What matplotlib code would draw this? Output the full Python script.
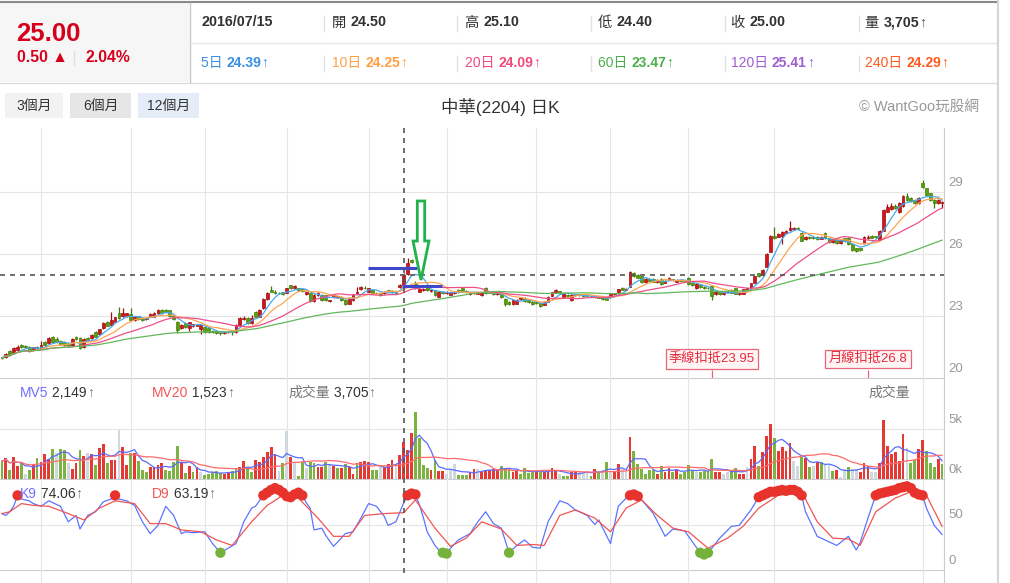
import numpy as np
import pandas as pd
import matplotlib
matplotlib.use("Agg")
import matplotlib.pyplot as plt
from matplotlib.patches import Rectangle, Polygon

plt.rcParams["font.family"] = ["Liberation Sans", "Noto Sans CJK TC", "DejaVu Sans"]

# ---- daily candles, oldest -> newest ----
opens = [
    21.00, 21.04, 21.32, 21.20, 21.37, 21.60, 21.58, 21.50, 21.37, 21.50,
    21.45, 21.75, 21.69, 21.98, 21.90, 21.80, 21.73, 21.70, 21.60, 22.00,
    21.93, 21.50, 21.95, 21.93, 22.25, 22.14, 22.41, 22.73, 22.57, 22.73,
    23.13, 23.00, 23.00, 23.10, 22.81, 23.00, 22.90, 22.84, 22.97, 22.97,
    23.13, 23.29, 23.29, 23.29, 23.00, 22.73, 22.41, 22.65, 22.41, 22.50,
    22.52, 22.40, 22.49, 22.45, 22.30, 22.28, 22.25, 22.20, 22.22, 22.28,
    22.25, 22.57, 22.85, 22.90, 22.65, 23.21, 22.97, 23.38, 23.81, 24.25,
    24.15, 24.12, 24.15, 24.13, 24.50, 24.38, 24.35, 24.30, 24.05, 24.10,
    23.74, 24.00, 24.02, 24.00, 23.72, 23.90, 23.90, 23.94, 23.80, 23.60,
    23.78, 24.10, 24.30, 24.38, 24.18, 24.26, 24.12, 24.10, 24.10, 24.25,
    24.20, 24.15, 24.40, 24.50, 25.03, 25.70, 24.60, 24.18, 24.25, 24.42,
    24.20, 24.26, 23.94, 24.18, 24.10, 24.02, 24.10, 24.26, 24.34, 24.20,
    24.05, 24.10, 24.08, 24.00, 24.34, 24.20, 24.15, 24.05, 24.10, 23.83,
    23.70, 23.57, 23.60, 23.82, 23.86, 23.78, 23.70, 23.70, 23.65, 23.55,
    23.70, 23.97, 24.15, 24.20, 23.90, 24.02, 23.78, 24.05, 24.05, 24.00,
    23.98, 23.96, 23.95, 23.92, 23.90, 23.90, 23.90, 24.05, 24.10, 24.38,
    24.28, 24.42, 25.10, 25.00, 24.92, 24.66, 24.80, 24.80, 24.66, 24.80,
    24.60, 24.74, 24.78, 24.66, 24.75, 24.72, 24.85, 24.60, 24.34, 24.50,
    24.42, 24.38, 24.47, 24.05, 24.20, 24.05, 24.20, 24.26, 24.34, 24.05,
    24.07, 24.30, 24.34, 24.61, 25.06, 24.98, 25.38, 26.11, 26.86, 26.83,
    26.86, 27.02, 27.15, 27.20, 27.26, 27.02, 26.70, 26.83, 26.80, 26.80,
    26.72, 27.02, 26.75, 26.59, 26.75, 26.55, 26.75, 26.78, 26.50, 26.27,
    26.27, 26.54, 26.75, 26.86, 26.85, 26.70, 27.12, 28.04, 28.15, 28.33,
    28.04, 28.30, 28.80, 28.70, 28.60, 28.44, 29.40, 29.16, 28.92, 28.60,
    28.44, 28.44,
]
highs = [
    21.05, 21.20, 21.35, 21.50, 21.60, 21.65, 21.62, 21.55, 21.52, 21.55,
    21.80, 21.78, 22.00, 22.05, 22.00, 21.85, 21.78, 21.75, 21.95, 22.05,
    21.98, 21.92, 22.00, 22.12, 22.30, 22.40, 22.70, 22.76, 23.20, 22.98,
    23.44, 23.40, 23.15, 23.40, 23.00, 23.02, 22.95, 22.95, 23.15, 23.18,
    23.35, 23.32, 23.32, 23.30, 23.02, 22.75, 22.60, 22.70, 22.72, 22.62,
    22.60, 22.60, 22.52, 22.50, 22.32, 22.30, 22.28, 22.28, 22.30, 22.30,
    22.60, 22.95, 23.00, 22.95, 23.05, 23.25, 23.32, 23.85, 24.18, 24.45,
    24.25, 24.15, 24.18, 24.38, 24.52, 24.50, 24.38, 24.35, 24.20, 24.12,
    24.05, 24.15, 24.05, 24.02, 23.80, 24.05, 24.00, 23.96, 23.82, 23.88,
    24.05, 24.42, 24.45, 24.45, 24.36, 24.28, 24.15, 24.12, 24.20, 24.28,
    24.24, 24.20, 24.55, 25.10, 25.80, 25.75, 24.70, 24.35, 24.35, 24.45,
    24.30, 24.28, 24.20, 24.20, 24.20, 24.18, 24.18, 24.30, 24.36, 24.25,
    24.18, 24.18, 24.15, 24.18, 24.40, 24.22, 24.18, 24.22, 24.12, 23.85,
    23.72, 23.80, 23.82, 23.92, 23.90, 23.80, 23.72, 23.72, 23.68, 23.72,
    23.96, 24.18, 24.30, 24.22, 24.08, 24.05, 24.05, 24.08, 24.08, 24.03,
    24.00, 23.98, 23.98, 23.95, 23.92, 23.92, 24.06, 24.12, 24.32, 24.42,
    24.35, 25.20, 25.15, 25.02, 24.95, 24.85, 24.83, 24.82, 24.78, 24.82,
    24.72, 24.90, 24.80, 24.78, 24.78, 24.75, 24.90, 24.62, 24.58, 24.52,
    24.45, 24.42, 24.50, 24.20, 24.22, 24.20, 24.24, 24.30, 24.38, 24.15,
    24.32, 24.38, 24.60, 24.95, 25.10, 25.25, 26.05, 26.90, 27.30, 27.00,
    27.10, 27.15, 27.60, 27.28, 27.30, 27.05, 26.88, 26.88, 26.85, 26.85,
    26.85, 27.05, 26.78, 26.75, 26.78, 26.68, 26.78, 26.80, 26.52, 26.30,
    26.30, 26.85, 26.90, 26.90, 26.88, 27.15, 28.15, 28.40, 28.45, 28.40,
    28.50, 28.85, 28.95, 28.75, 28.65, 28.75, 29.56, 29.20, 28.95, 28.65,
    28.65, 28.55,
]
lows = [
    20.92, 21.00, 21.10, 21.15, 21.35, 21.45, 21.45, 21.28, 21.30, 21.40,
    21.42, 21.55, 21.65, 21.70, 21.70, 21.60, 21.55, 21.58, 21.55, 21.85,
    21.40, 21.45, 21.80, 21.90, 21.98, 22.10, 22.38, 22.50, 22.55, 22.70,
    22.85, 22.98, 22.95, 22.75, 22.78, 22.80, 22.75, 22.80, 22.95, 22.95,
    23.10, 23.12, 23.15, 22.98, 22.80, 22.20, 22.38, 22.45, 22.30, 22.48,
    22.50, 22.16, 22.20, 22.20, 22.20, 22.15, 22.10, 22.15, 22.20, 22.10,
    22.20, 22.55, 22.80, 22.60, 22.62, 22.95, 22.95, 23.35, 23.78, 24.15,
    24.05, 24.05, 24.02, 24.10, 24.30, 24.35, 24.25, 24.15, 24.00, 23.70,
    23.70, 23.95, 23.75, 23.75, 23.70, 23.88, 23.88, 23.75, 23.55, 23.58,
    23.75, 24.08, 24.25, 24.30, 24.15, 24.08, 24.05, 23.98, 24.05, 24.15,
    24.12, 24.05, 24.35, 24.40, 25.00, 25.55, 24.30, 24.15, 24.20, 24.22,
    24.15, 23.98, 23.90, 24.08, 24.05, 24.00, 24.05, 24.12, 24.15, 24.10,
    24.02, 24.05, 24.05, 23.98, 24.08, 24.10, 24.02, 24.02, 23.88, 23.50,
    23.55, 23.55, 23.58, 23.80, 23.70, 23.65, 23.55, 23.58, 23.45, 23.52,
    23.68, 23.95, 24.12, 24.08, 23.88, 23.95, 23.75, 23.98, 23.98, 23.94,
    23.93, 23.90, 23.88, 23.85, 23.78, 23.76, 23.88, 24.02, 24.08, 24.24,
    24.25, 24.40, 24.90, 24.82, 24.62, 24.62, 24.68, 24.64, 24.62, 24.50,
    24.58, 24.72, 24.70, 24.64, 24.66, 24.64, 24.50, 24.45, 24.32, 24.38,
    24.32, 24.30, 23.78, 24.02, 24.02, 24.02, 24.12, 24.10, 24.05, 24.02,
    24.05, 24.28, 24.32, 24.58, 24.90, 24.95, 25.35, 26.08, 26.70, 26.80,
    26.50, 27.00, 27.10, 27.15, 27.18, 26.60, 26.65, 26.70, 26.70, 26.68,
    26.70, 26.72, 26.55, 26.55, 26.48, 26.50, 26.58, 26.45, 26.15, 26.10,
    26.12, 26.50, 26.72, 26.75, 26.76, 26.66, 27.10, 28.00, 28.10, 28.15,
    27.95, 28.25, 28.55, 28.50, 28.40, 28.40, 29.20, 28.80, 28.55, 28.20,
    28.40, 28.20,
]
closes = [
    20.98, 21.17, 21.12, 21.45, 21.52, 21.50, 21.50, 21.30, 21.50, 21.45,
    21.60, 21.60, 21.93, 21.77, 21.75, 21.65, 21.60, 21.62, 21.90, 21.88,
    21.45, 21.90, 21.85, 22.09, 22.00, 22.36, 22.65, 22.52, 22.81, 22.94,
    22.89, 23.13, 23.13, 22.80, 22.97, 22.85, 22.82, 22.90, 23.10, 23.13,
    23.29, 23.17, 23.20, 23.00, 22.84, 22.33, 22.57, 22.49, 22.70, 22.60,
    22.58, 22.57, 22.25, 22.25, 22.25, 22.20, 22.17, 22.25, 22.25, 22.22,
    22.57, 22.90, 22.90, 22.65, 22.90, 22.97, 23.29, 23.81, 24.13, 24.18,
    24.10, 24.10, 24.08, 24.34, 24.34, 24.45, 24.28, 24.20, 24.18, 23.74,
    24.02, 24.13, 23.78, 23.80, 23.78, 24.02, 23.97, 23.78, 23.60, 23.86,
    24.02, 24.18, 24.42, 24.34, 24.34, 24.10, 24.10, 24.00, 24.18, 24.20,
    24.15, 24.10, 24.50, 25.00, 25.56, 25.60, 24.40, 24.30, 24.30, 24.26,
    24.25, 24.02, 24.18, 24.12, 24.15, 24.15, 24.14, 24.15, 24.18, 24.15,
    24.15, 24.15, 24.12, 24.15, 24.10, 24.12, 24.05, 24.20, 23.90, 23.57,
    23.57, 23.78, 23.80, 23.90, 23.73, 23.70, 23.57, 23.62, 23.49, 23.70,
    23.94, 24.15, 24.26, 24.10, 24.05, 23.98, 24.02, 24.00, 24.00, 23.97,
    23.95, 23.93, 23.90, 23.88, 23.81, 23.80, 24.05, 24.10, 24.30, 24.26,
    24.32, 25.11, 24.92, 24.85, 24.66, 24.80, 24.70, 24.66, 24.75, 24.55,
    24.70, 24.85, 24.74, 24.74, 24.70, 24.68, 24.55, 24.50, 24.55, 24.40,
    24.36, 24.34, 23.95, 24.18, 24.05, 24.18, 24.15, 24.13, 24.07, 24.12,
    24.30, 24.35, 24.58, 24.93, 24.93, 25.22, 26.00, 26.86, 26.75, 26.95,
    27.07, 27.12, 27.24, 27.24, 27.22, 26.64, 26.83, 26.75, 26.75, 26.72,
    26.80, 26.75, 26.59, 26.70, 26.51, 26.65, 26.60, 26.50, 26.18, 26.15,
    26.19, 26.83, 26.80, 26.78, 26.80, 27.12, 28.12, 28.25, 28.33, 28.20,
    28.44, 28.80, 28.60, 28.55, 28.44, 28.70, 29.24, 28.84, 28.60, 28.44,
    28.60, 28.52,
]
volumes = [
    1800, 2130, 900, 2200, 1330, 1630, 500, 900, 1500, 2070,
    1700, 2500, 2000, 3000, 2630, 3000, 2900, 1600, 1000, 1600,
    2900, 2270, 2600, 2500, 1400, 3100, 3500, 1600, 1900, 1900,
    4900, 3200, 1400, 2600, 2600, 1800, 900, 700, 1200, 1200,
    1400, 1600, 900, 800, 1700, 3300, 1700, 600, 1300, 700,
    1200, 700, 400, 470, 730, 800, 570, 470, 670, 800,
    1070, 1230, 1800, 1000, 730, 1900, 1670, 2230, 2730, 3230,
    2400, 800, 1570, 4800, 2230, 1670, 330, 1670, 1070, 1670,
    1570, 1230, 1230, 1670, 1470, 1330, 1130, 1070, 1470, 1230,
    470, 1570, 1730, 1800, 1670, 900, 900, 1230, 1230, 1470,
    1900, 1470, 2400, 3705, 2900, 4570, 6730, 4070, 1400, 1130,
    900, 1900, 800, 800, 470, 900, 1470, 400, 400, 400,
    730, 1000, 1000, 670, 900, 900, 1000, 1000, 1330, 1000,
    1000, 730, 900, 470, 1130, 570, 730, 800, 730, 730,
    800, 1070, 900, 470, 330, 330, 670, 670, 670, 730,
    730, 330, 1000, 730, 900, 1670, 730, 670, 1470, 1000,
    730, 4170, 2800, 1470, 1000, 470, 900, 900, 470, 1330,
    670, 1130, 730, 900, 470, 730, 1400, 900, 670, 730,
    800, 800, 2000, 730, 730, 470, 730, 900, 1070, 470,
    470, 1230, 2000, 3330, 1330, 2730, 4300, 5470, 4070, 2800,
    3230, 2800, 3570, 1800, 1330, 2230, 2130, 1230, 1330, 1670,
    1670, 1400, 1400, 800, 900, 230, 1000, 1230, 1000, 1000,
    730, 1570, 1330, 730, 730, 1570, 5900, 3330, 2470, 2670,
    1800, 4470, 3070, 1570, 1900, 3000, 3900, 2800, 1570, 1230,
    2000, 1470,
]
# u = close above previous close, d = below, n = unchanged
vol_dir = ("duduudndud" "uuudnddnuu" "dunuduuduu" "nuududdduu" "uuddddudud"
           "unddddduud" "duudduuuuu" "undnunddnd" "duudnududu" "uduuuddnuu"
           "unuuuudddd" "uduunnnddd" "uunuuuuudd" "duuddddudu" "uuundduunn"
           "ndudndnuun" "nuddddddud" "uududdddnd" "ddduunnddu" "unuuduuudu"
           "uuunndudnu" "dnndunndnn" "uuunnuuuuu" "uundduuddd" "ud")

# KD(9) read at day index
k_points = [
    (0, 62), (1, 60), (2, 64), (3, 70), (4, 82), (5, 78), (7, 76), (8, 73), (10, 70),
    (12, 76), (15, 70), (17, 53), (19, 60), (20, 45), (22, 60), (24, 64), (26, 75),
    (28, 78), (29, 82), (30, 78), (32, 76), (34, 71), (36, 53), (38, 40), (40, 49),
    (42, 70), (44, 60), (46, 40), (47, 42), (49, 41), (52, 42), (54, 29), (56, 19),
    (58, 24), (60, 29), (62, 53), (64, 68), (65, 70), (67, 82), (68, 85), (69, 88),
    (70, 90), (71, 88), (72, 85), (73, 81), (74, 80), (75, 83), (76, 85), (77, 82),
    (78, 74), (79, 68), (80, 44), (82, 46), (83, 38), (85, 26), (87, 35), (88, 40),
    (90, 42), (92, 57), (94, 73), (96, 70), (98, 59), (99, 49), (101, 53), (103, 74),
    (104, 82), (105, 84), (106, 83), (107, 72), (108, 58), (109, 42), (111, 27),
    (112, 22), (113, 19), (114, 18), (115, 24), (117, 33), (120, 40), (122, 53),
    (124, 64), (126, 51), (128, 46), (130, 19), (132, 27), (134, 33), (136, 25),
    (138, 24), (140, 53), (143, 76), (145, 73), (147, 66), (150, 60), (152, 50),
    (153, 55), (156, 29), (158, 70), (160, 79), (161, 82), (162, 83), (163, 81),
    (164, 77), (167, 62), (170, 37), (172, 45), (175, 43), (177, 31), (179, 19),
    (180, 17), (181, 19), (182, 24), (184, 35), (187, 48), (189, 49), (192, 66),
    (194, 80), (195, 82), (196, 84), (197, 86), (198, 86), (199, 87), (200, 88),
    (201, 87), (202, 88), (203, 88), (204, 86), (205, 82), (206, 64), (209, 37),
    (211, 33), (214, 27), (217, 37), (219, 22), (220, 30), (222, 57), (224, 82),
    (225, 84), (226, 85), (227, 86), (228, 87), (229, 88), (230, 90), (231, 91),
    (232, 92), (233, 90), (234, 85), (235, 83), (236, 82), (237, 68), (239, 49),
    (241, 39),
]
d_points = [
    (0, 62), (2, 64), (5, 73), (8, 71), (12, 70), (17, 62), (21, 55), (25, 68),
    (29, 76), (34, 73), (38, 51), (42, 51), (46, 44), (51, 42), (55, 33), (59, 27),
    (64, 53), (68, 71), (72, 82), (76, 79), (81, 57), (85, 37), (89, 37), (93, 60),
    (98, 62), (103, 63), (106, 77), (111, 46), (115, 26), (119, 35), (123, 53),
    (128, 45), (132, 27), (136, 28), (139, 27), (143, 60), (147, 66), (152, 57),
    (156, 42), (160, 68), (164, 77), (168, 60), (172, 46), (176, 42), (181, 24),
    (186, 35), (190, 48), (194, 68), (199, 82), (205, 86), (209, 53), (213, 35),
    (217, 34), (220, 27), (224, 64), (229, 79), (233, 86), (237, 82), (241, 48),
]

month_start_idx = [10, 33, 52, 73, 94, 114, 137, 156, 176, 198, 236]
cross_idx = 103
deduct_idx = [182, 222]
deduct_text = ["季線扣抵23.95", "月線扣抵26.8"]

price_ticks = [20, 23, 26, 29]
vol_ticks = [0, 5000]
vol_tick_labels = ["0k", "5k"]
kd_ticks = [0, 50]

quote_date = "2016/07/15"
quote_labels = ["開", "高", "低", "收", "量"]
quote_values = ["24.50", "25.10", "24.40", "25.00", "3,705"]
ma_labels = ["5日", "10日", "20日", "60日", "120日", "240日"]
ma_values = ["24.39", "24.25", "24.09", "23.47", "25.41", "24.29"]
last_price, last_change, last_pct = "25.00", "0.50", "2.04%"
periods = ["3個月", "6個月", "12個月"]

n = len(closes)
W, H = 1010, 583
fig = plt.figure(figsize=(W / 100, H / 100), dpi=100)
fig.patch.set_facecolor("white")
GRID = "#e6e6e6"
LINE = "#cccccc"


def px_axes(x0, y0, x1, y1):
    a = fig.add_axes([x0 / W, 1 - y1 / H, (x1 - x0) / W, (y1 - y0) / H])
    a.set_xlim(-0.5, n - 0.5)
    for s in a.spines.values():
        s.set_visible(False)
    a.spines["right"].set_visible(True)
    a.spines["right"].set_color(LINE)
    a.spines["bottom"].set_color(LINE)
    a.tick_params(left=False, bottom=False, labelleft=False, labelbottom=False)
    a.set_xticks(month_start_idx)
    a.grid(True, axis="x", color=GRID, lw=0.8)
    a.set_axisbelow(True)
    a.patch.set_alpha(0)
    return a


def right_labels(a, vals, labels):
    for v, s in zip(vals, labels):
        a.annotate(s, xy=(1, v), xycoords=("axes fraction", "data"),
                   xytext=(3, 6.5), textcoords="offset points",
                   ha="left", va="center", fontsize=9.5, color="#9a9a9a",
                   annotation_clip=False)


x = np.arange(n)
o, h, l, c = map(np.array, (opens, highs, lows, closes))

# ---- price panel ----
ax = px_axes(0, 128, 944, 378.3)
ax.set_ylim(20, 20 + (378.3 - 128) / 20.73)
ax.set_yticks(price_ticks[1:])
ax.yaxis.grid(True, color=GRID, lw=0.8)
ax.spines["bottom"].set_visible(True)
right_labels(ax, price_ticks, [str(v) for v in price_ticks])

up = c >= o
face = ["#d2151e" if u else "#5a9e0c" for u in up]
edge = ["#a00e10" if u else "#3f7d05" for u in up]
ax.vlines(x, l, h, colors=edge, lw=0.9, zorder=3)
ax.bar(x, np.maximum(np.abs(c - o), 0.03), bottom=np.minimum(o, c), width=0.72,
       color=face, edgecolor=edge, linewidth=0.5, zorder=4)

cs = pd.Series(closes)
for win, col in zip([5, 10, 20, 60], ["#4aa8ee", "#ffa552", "#ee4f8a", "#62b85a"]):
    ax.plot(x, cs.rolling(win, min_periods=1).mean(), color=col, lw=0.9, zorder=5)

ax.axhline(closes[cross_idx], color="#555555", lw=1.2, ls=(0, (3, 3)), zorder=6)

# hand drawn marks on the chart
ax.plot([93.9, 106.3], [25.3, 25.3], color="#3f48cc", lw=2.2, zorder=7, solid_capstyle="butt")
ax.plot([102.5, 112.8], [24.45, 24.45], color="#3f48cc", lw=2.2, zorder=7, solid_capstyle="butt")

for i, s in zip(deduct_idx, deduct_text):
    ax.vlines(i, 20, 20.42, color="#e8667a", lw=0.9, zorder=7)
    ax.text(i, 20.93, s, ha="center", va="center", fontsize=9.5, color="#e8283a", zorder=8,
            bbox=dict(boxstyle="square,pad=0.25", fc="#fff4f4", ec="#e8667a", lw=0.9))

# ---- volume panel ----
av = px_axes(0, 378.3, 944, 479)
av.set_ylim(0, 10100)
av.set_yticks([5000])
av.yaxis.grid(True, color=GRID, lw=0.8)
av.spines["bottom"].set_visible(True)
right_labels(av, vol_ticks, vol_tick_labels)
vcol = {"u": "#e53935", "d": "#7cb342", "n": "#cfd8dc"}
av.bar(x, volumes, width=0.72, color=[vcol[d] for d in vol_dir], zorder=3)
vs = pd.Series(volumes)
av.plot(x, vs.rolling(5, min_periods=1).mean(), color="#5b6cff", lw=0.9, zorder=4)
av.plot(x, vs.rolling(20, min_periods=1).mean(), color="#ff6b6b", lw=0.9, zorder=4)

# ---- KD panel ----
ak = px_axes(0, 479, 944, 570)
ak.set_ylim(0, 100)
ak.set_yticks([50])
ak.yaxis.grid(True, color=GRID, lw=0.8)
ak.spines["bottom"].set_visible(True)
right_labels(ak, kd_ticks, [str(v) for v in kd_ticks])
kx, kv = zip(*k_points)
dx, dv = zip(*d_points)
ak.plot(kx, kv, color="#5b74ff", lw=0.9, zorder=3)
ak.plot(dx, dv, color="#f05555", lw=0.9, zorder=3)
hot = [(i, v) for i, v in k_points if v >= 80]
cold = [(i, v) for i, v in k_points if v <= 20]
ak.scatter(*zip(*hot), s=55, color="#e8322c", edgecolors="none", zorder=5, clip_on=False)
ak.scatter(*zip(*cold), s=55, color="#76b23a", edgecolors="none", zorder=5, clip_on=False)

# ---- date strip ----
ab = px_axes(0, 570, 944, 583)
ab.set_ylim(0, 1)

# ---- overlay in pixel units ----
ov = fig.add_axes([0, 0, 1, 1])
ov.set_xlim(0, W)
ov.set_ylim(H, 0)
ov.axis("off")

ov.add_patch(Rectangle((0, 3), 189, 79, fc="#f6f6f6", ec="none"))
ov.plot([0, 997], [1.5, 1.5], color="#8a8a8a", lw=1.5)
ov.plot([0, 997], [82.5, 82.5], color="#dddddd", lw=1)
ov.plot([189.5, 189.5], [3, 82], color="#c8c8c8", lw=1)
ov.plot([191, 997], [43.3, 43.3], color="#e6e6e6", lw=1)
ov.plot([998, 998], [0, H], color="#d5d5d5", lw=1.5)
ov.plot([74, 74], [51, 65], color="#dddddd", lw=1)
for sx in [323.5, 457, 591, 725, 859]:
    ov.plot([sx, sx], [16, 31], color="#e3e3e3", lw=1)
    ov.plot([sx, sx], [56, 71], color="#e3e3e3", lw=1)

btn_x = [(5, 63, "#f2f2f2"), (70, 131, "#e6e6e6"), (138, 199, "#e4edf7")]
for (bx0, bx1, bc), lab in zip(btn_x, periods):
    ov.add_patch(Rectangle((bx0, 93), bx1 - bx0, 25, fc=bc, ec="none"))
    ov.text((bx0 + bx1) / 2, 106, lab, ha="center", va="center", fontsize=10, color="#333333")

cx = ax.transData.transform((cross_idx, 0))[0]
ov.plot([cx, cx], [128, 577], color="#555555", lw=1.2, ls=(0, (3, 3)))

ov.add_patch(Polygon([(417.3, 201), (424.7, 201), (424.7, 241), (429, 241), (421, 280),
                      (413, 241), (417.3, 241)], closed=True, fill=False,
                     ec="#22b14c", lw=2.0, joinstyle="miter"))

renderer = fig.canvas.get_renderer()


def put(px, py, parts, size):
    for s, col, wt in parts:
        t = fig.text(px / W, 1 - py / H, s, fontsize=size, color=col, fontweight=wt,
                     ha="left", va="center")
        px += t.get_window_extent(renderer).width
    return px


RED = "#d6001c"
put(16, 34, [(last_price, RED, "bold")], 18.5)
put(17, 58, [(last_change + " ▲", RED, "bold")], 11.3)
put(85, 58, [(last_pct, RED, "bold")], 11.3)

cols_x = [201, 332, 465, 598, 731, 865]
put(cols_x[0], 22.5, [(quote_date, "#333333", "bold")], 10.3)
for qx, lab, val in zip(cols_x[1:], quote_labels, quote_values):
    parts = [(lab + " ", "#333333", "normal"), (val, "#333333", "bold")]
    if lab == "量":
        parts.append(("↑", "#555555", "normal"))
    put(qx, 22.5, parts, 10.3)

ma_cols = ["#3b8fe0", "#ff9f43", "#ef4a7c", "#4cae4c", "#9d5fd2", "#ff5a1f"]
for qx, lab, val, col in zip(cols_x, ma_labels, ma_values, ma_cols):
    put(qx, 63, [(lab + " ", col, "normal"), (val, col, "bold"), ("↑", col, "normal")], 10)

fig.text(500 / W, 1 - 106.5 / H, "中華(2204) 日K", ha="center", va="center", fontsize=12.5, color="#333333")
fig.text(979 / W, 1 - 106.5 / H, "© WantGoo玩股網", ha="right", va="center", fontsize=10.5, color="#999999")

# indicator captions
vol_last = volumes[cross_idx]
put(20, 393, [("MV5", "#6f6fff", "normal"), (" 2,149", "#333333", "normal"), ("↑", "#8a6f8a", "normal")], 10)
put(152, 393, [("MV20", "#f25555", "normal"), (" 1,523", "#333333", "normal"), ("↑", "#8a6f8a", "normal")], 10)
put(288, 393, [("成交量", "#777777", "normal"), (" {:,}".format(vol_last), "#333333", "normal"),
               ("↑", "#8a6f8a", "normal")], 10)
fig.text(910 / W, 1 - 393 / H, "成交量", ha="right", va="center", fontsize=10, color="#777777")
put(20, 494, [("K9", "#6f6fff", "normal"), (" 74.06", "#333333", "normal"), ("↑", "#8a6f8a", "normal")], 10)
put(152, 494, [("D9", "#f25555", "normal"), (" 63.19", "#333333", "normal"), ("↑", "#8a6f8a", "normal")], 10)

fig.savefig("out.png", dpi=100)
